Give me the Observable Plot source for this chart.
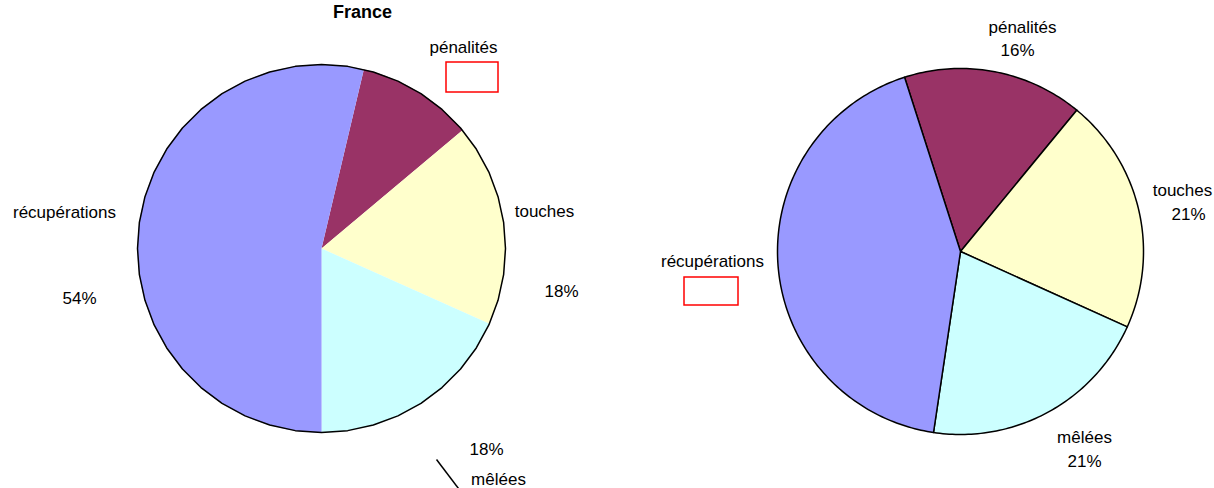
<!DOCTYPE html>
<html><head><meta charset="utf-8">
<script src="https://cdn.jsdelivr.net/npm/d3@7"></script>
<script src="https://cdn.jsdelivr.net/npm/@observablehq/plot@0.6"></script>
<style>body{margin:0;background:#fff}</style>
</head><body><div id="chart"></div>
<script>
const categories = ["pénalités", "touches", "mêlées", "récupérations"];
const franceValues = [10.2, 17.8, 18.3, 53.7];
const otherValues = [15.9, 20.8, 20.6, 42.7];
const colors = ["#993366", "#FFFFCC", "#CCFFFF", "#9999FF"];

const W = 1214, H = 488;
const pies = [
  {values: franceValues, cx: 321, cy: 248, r: 184, start: 13.3, outlineOnly: true},
  {values: otherValues, cx: 960, cy: 251, r: 183, start: -17.8, outlineOnly: false}
];
const rad = d => d * Math.PI / 180;
const pct = v => Math.round(v) + "%";

const marks = [];
for (const p of pies) {
  const arcs = d3.pie().sort(null).startAngle(rad(p.start)).endAngle(rad(p.start) + 2 * Math.PI)(p.values);
  const sliceRows = [];
  arcs.forEach((a, i) => {
    const n = Math.max(2, Math.ceil((a.endAngle - a.startAngle) / rad(1)));
    sliceRows.push({x: p.cx, y: p.cy, cat: categories[i]});
    for (let k = 0; k <= n; k++) {
      const t = a.startAngle + (a.endAngle - a.startAngle) * k / n;
      sliceRows.push({x: p.cx + p.r * Math.sin(t), y: p.cy - p.r * Math.cos(t), cat: categories[i]});
    }
    sliceRows.push({x: p.cx, y: p.cy, cat: categories[i]});
  });
  marks.push(Plot.line(sliceRows, {x: "x", y: "y", z: "cat", fill: "cat", stroke: p.outlineOnly ? "none" : "#000", strokeWidth: 1.5, strokeLinejoin: "round"}));
  if (p.outlineOnly) {
    const seg = 44, outline = [];
    for (let k = 0; k <= seg; k++) {
      const t = 2 * Math.PI * k / seg;
      outline.push({x: p.cx + p.r * Math.sin(t), y: p.cy - p.r * Math.cos(t)});
    }
    marks.push(Plot.line(outline, {x: "x", y: "y", stroke: "#000", strokeWidth: 1.5}));
  }
}

const labels = [
  {t: categories[0], x: 463, y: 47},
  {t: categories[1], x: 544, y: 211},
  {t: pct(franceValues[1]), x: 561, y: 291},
  {t: categories[3], x: 64, y: 212},
  {t: pct(franceValues[3]), x: 79, y: 298},
  {t: pct(franceValues[2]), x: 486, y: 449},
  {t: categories[2], x: 498, y: 479},
  {t: categories[0], x: 1022, y: 27},
  {t: pct(otherValues[0]), x: 1017, y: 50},
  {t: categories[1], x: 1182, y: 190},
  {t: pct(otherValues[1]), x: 1188, y: 214},
  {t: categories[3], x: 712, y: 261},
  {t: categories[2], x: 1084, y: 437},
  {t: pct(otherValues[2]), x: 1084, y: 461}
];
const titles = [{t: "France", x: 362, y: 12}];
const boxes = [{x1: 446, x2: 498, y1: 62, y2: 92}, {x1: 684, x2: 738, y1: 277, y2: 305}];
const leader = [{x1: 436, y1: 459, x2: 458, y2: 488}];

marks.push(Plot.rect(boxes, {x1: "x1", x2: "x2", y1: "y1", y2: "y2", fill: "none", stroke: "#ff0000", strokeWidth: 1.5}));
marks.push(Plot.link(leader, {x1: "x1", y1: "y1", x2: "x2", y2: "y2", stroke: "#000", strokeWidth: 1.5}));
marks.push(Plot.text(labels, {x: "x", y: "y", text: "t", fontSize: 17, fill: "#000", fontFamily: "Liberation Sans, Arial, sans-serif"}));
marks.push(Plot.text(titles, {x: "x", y: "y", text: "t", fontSize: 18, fontWeight: "bold", fill: "#000", fontFamily: "Liberation Sans, Arial, sans-serif"}));

const chart = Plot.plot({
  width: W, height: H, margin: 0,
  x: {domain: [0, W], range: [0, W], axis: null},
  y: {domain: [0, H], range: [0, H], axis: null},
  color: {domain: categories, range: colors},
  style: {background: "#fff"},
  marks
});
document.getElementById("chart").appendChild(chart);
</script></body></html>
